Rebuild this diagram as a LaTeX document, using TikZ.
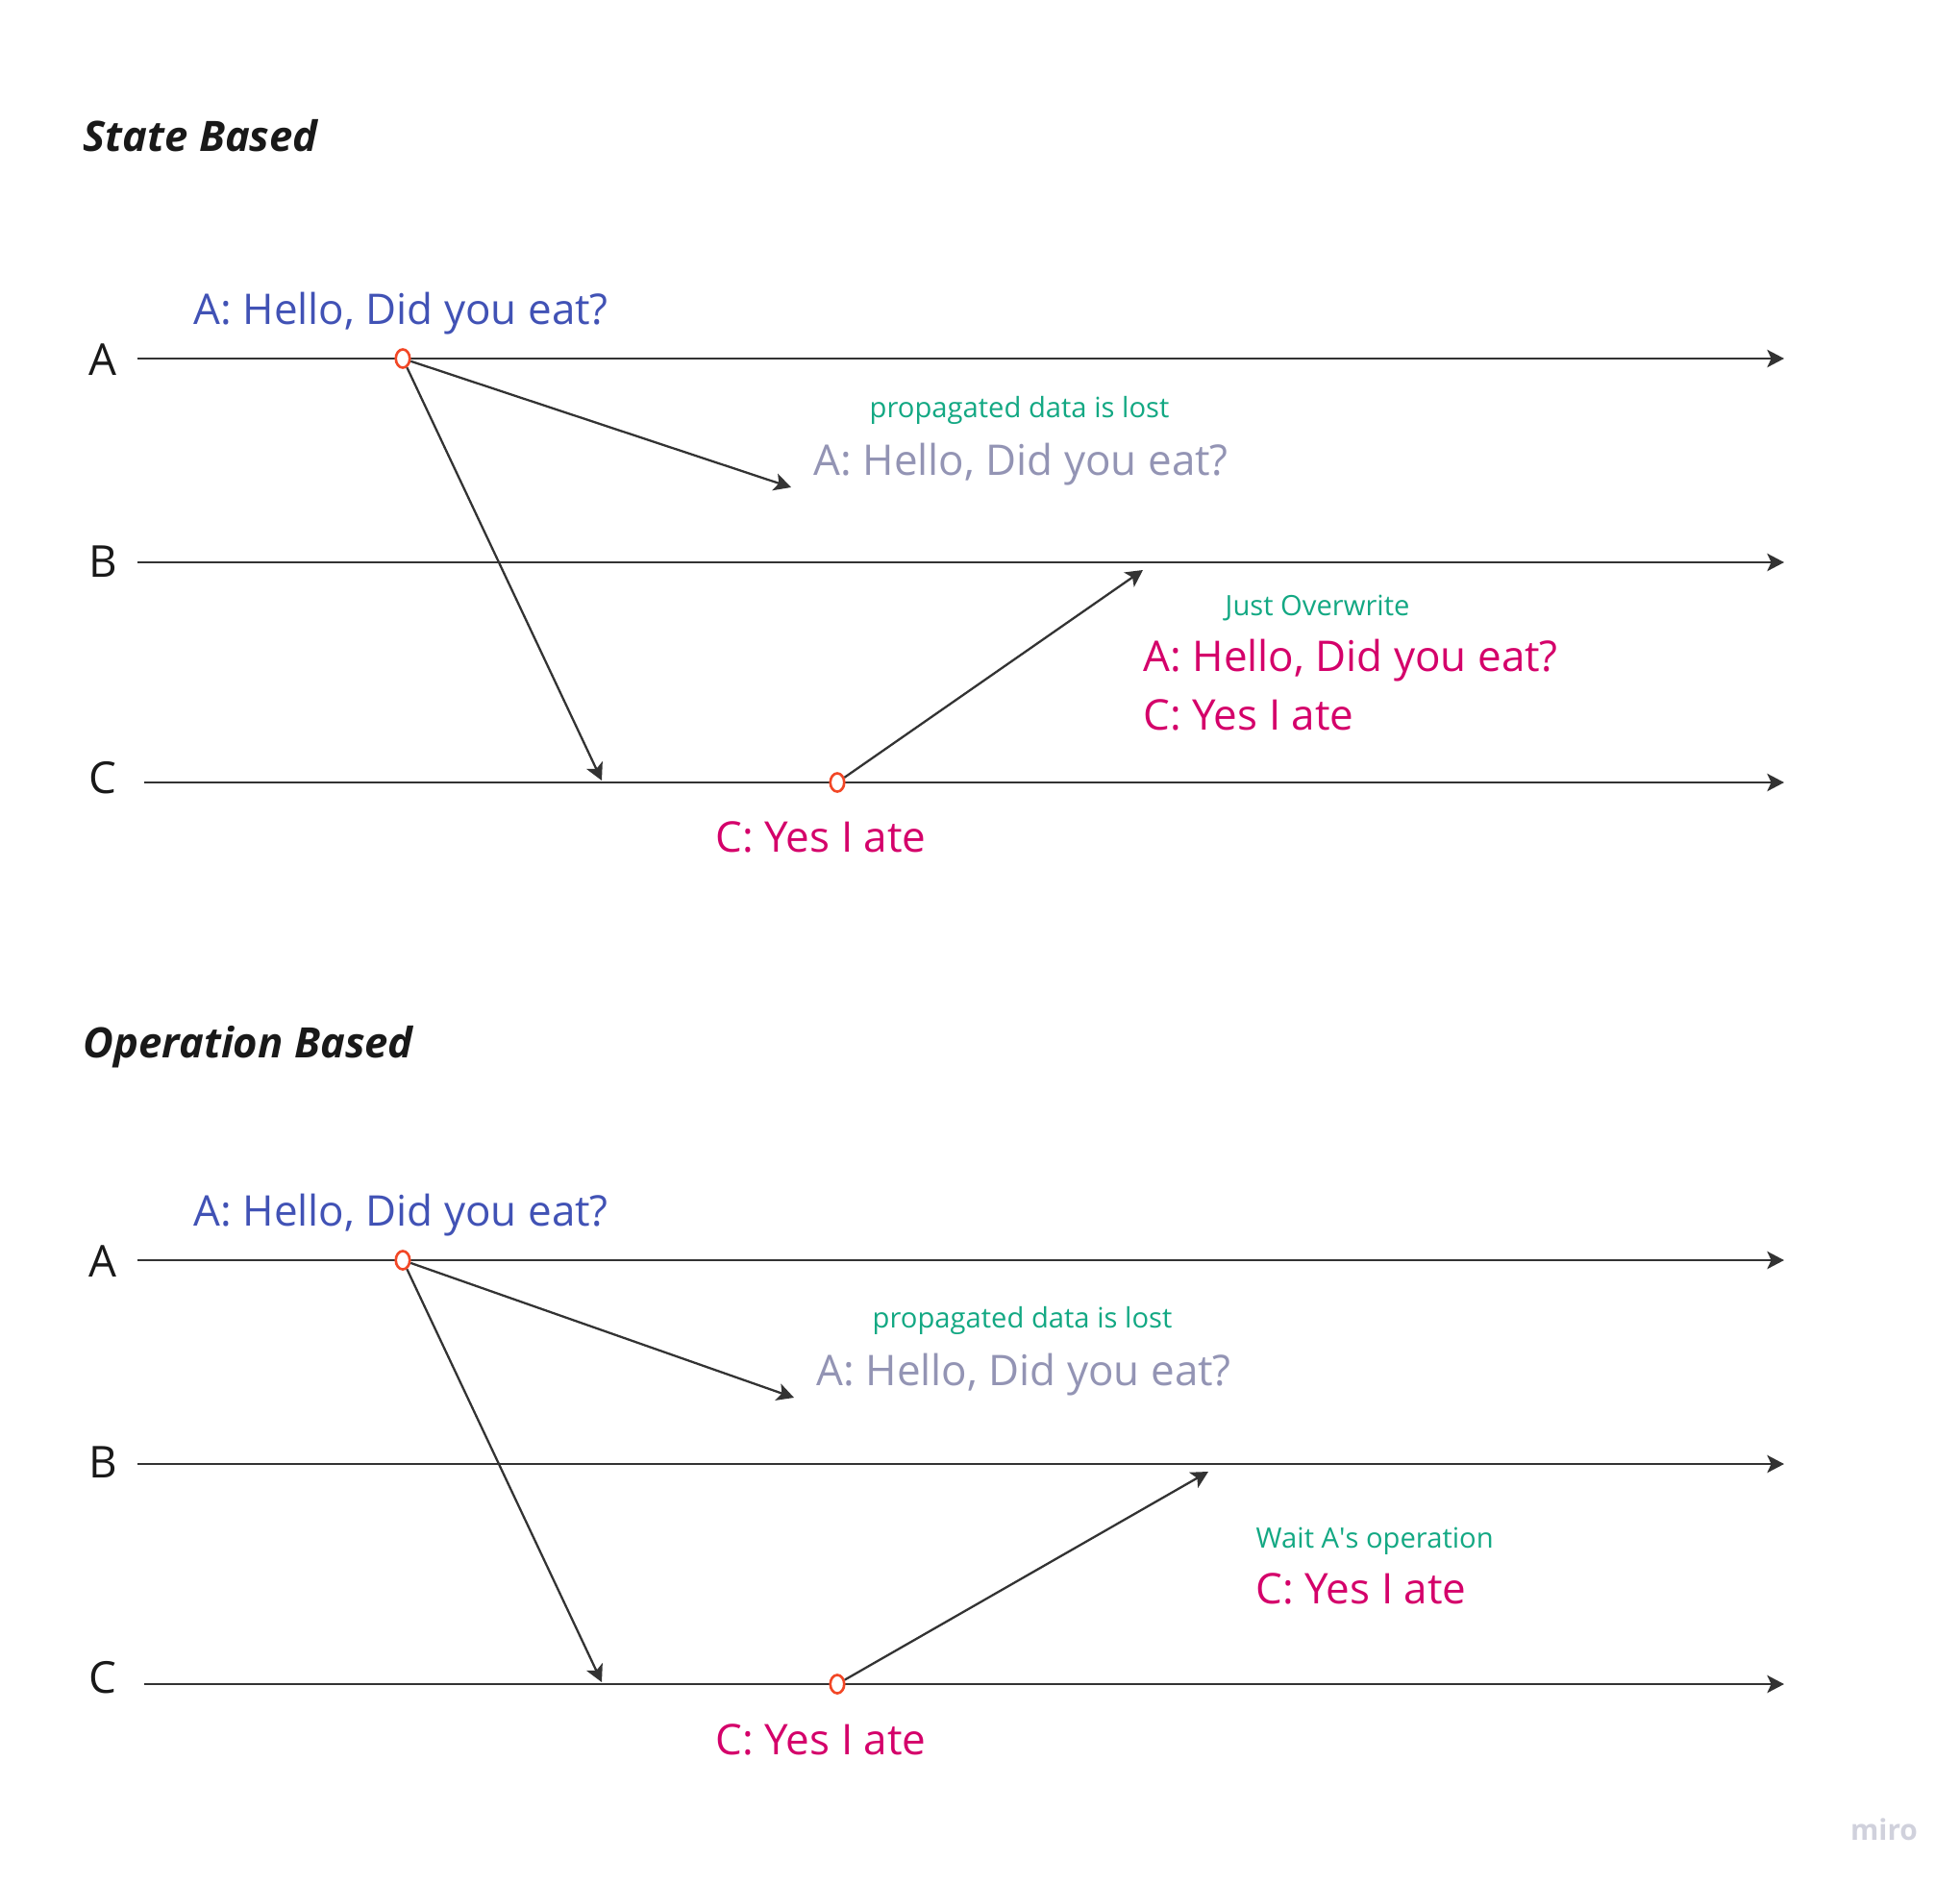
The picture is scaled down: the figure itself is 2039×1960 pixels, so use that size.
\documentclass[tikz,border=0pt]{standalone}
\usepackage{fontspec}
\setmainfont{Open Sans}
\usetikzlibrary{arrows.meta}
\usetikzlibrary{shapes.geometric}

\definecolor{linegray}{HTML}{333333}
\definecolor{evred}{HTML}{F24726}
\definecolor{msgblue}{HTML}{4152B5}
\definecolor{msggray}{HTML}{9394B4}
\definecolor{msgpink}{HTML}{D4006A}
\definecolor{notegreen}{HTML}{13A883}
\definecolor{mirogray}{HTML}{D0D1DC}

\begin{document}
\begin{tikzpicture}[x=0.01cm, y=-0.01cm, > = {Stealth[length=5pt, width=5.2pt, inset=1.2pt]},
	timeline/.style={->, line width=0.7pt, draw=linegray},
	msg/.style={->, line width=0.65pt, draw=linegray},
	event/.style={ellipse, draw=evred, fill=white, line width=0.75pt, inner sep=0pt, minimum width=0.145cm, minimum height=0.19cm},
	big/.style={font=\fontsize{12.5}{15}\selectfont, inner sep=0pt, anchor=base west},
	note/.style={font=\fontsize{8.3}{10}\selectfont, inner sep=0pt, anchor=base west, text=notegreen},
	proc/.style={font=\fontsize{13}{15}\selectfont, text=black!90, inner sep=0pt},
	title/.style={font=\fontsize{12.4}{15}\selectfont\bfseries\itshape, text=black!90, inner sep=0pt, anchor=base west}]
	\useasboundingbox (0,0) rectangle (2039,1960);

	% State Based
	\node[title] (tState) at (86,157) {State Based};
	\node[proc] (sA) at (107,374) {A};
	\node[proc] (sB) at (107,584) {B};
	\node[proc] (sC) at (107,809) {C};
	\coordinate (sA0) at (143,373); \coordinate (sA1) at (1856,373);
	\coordinate (sB0) at (143,585); \coordinate (sB1) at (1856,585);
	\coordinate (sC0) at (150,814); \coordinate (sC1) at (1856,814);
	\draw[timeline] (sA0) -- (sA1); % A line
	\draw[timeline] (sB0) -- (sB1); % B line
	\draw[timeline] (sC0) -- (sC1); % C line

	\node[event] (sAev) at (419,373) {};
	\node[event] (sCev) at (871,814) {};
	\coordinate (sAtoB) at (823,507);
	\coordinate (sAtoC) at (626,812);
	\coordinate (sCtoB) at (1189,593);
	\draw[msg] (sAev) -- (sAtoB);
	\draw[msg] (sAev) -- (sAtoC);
	\draw[msg] (sCev) -- (sCtoB);

	\node[big, text=msgblue] (sAmsg) at (201,337) {A: Hello, Did you eat?};
	\node[note] (sLost) at (904,434) {propagated data is lost};
	\node[big, text=msggray] (sBmsg) at (846,494) {A: Hello, Did you eat?};
	\node[note] (sOver) at (1274,640) {Just Overwrite};
	\node[big, text=msgpink] (sBnewA) at (1189,698) {A: Hello, Did you eat?};
	\node[big, text=msgpink] (sBnewC) at (1189,759) {C: Yes I ate};
	\node[big, text=msgpink] (sCmsg) at (744,886) {C: Yes I ate};

	% Operation Based
	\node[title] (tOp) at (86,1100) {Operation Based};
	\node[proc] (oA) at (107,1312) {A};
	\node[proc] (oB) at (107,1521) {B};
	\node[proc] (oC) at (107,1745) {C};
	\coordinate (oA0) at (143,1311); \coordinate (oA1) at (1856,1311);
	\coordinate (oB0) at (143,1523); \coordinate (oB1) at (1856,1523);
	\coordinate (oC0) at (150,1752); \coordinate (oC1) at (1856,1752);
	\draw[timeline] (oA0) -- (oA1); % A line
	\draw[timeline] (oB0) -- (oB1); % B line
	\draw[timeline] (oC0) -- (oC1); % C line

	\node[event] (oAev) at (419,1311) {};
	\node[event] (oCev) at (871,1752) {};
	\coordinate (oAtoB) at (826,1454);
	\coordinate (oAtoC) at (626,1750);
	\coordinate (oCtoB) at (1257,1531);
	\draw[msg] (oAev) -- (oAtoB);
	\draw[msg] (oAev) -- (oAtoC);
	\draw[msg] (oCev) -- (oCtoB);

	\node[big, text=msgblue] (oAmsg) at (201,1275) {A: Hello, Did you eat?};
	\node[note] (oLost) at (907,1381) {propagated data is lost};
	\node[big, text=msggray] (oBmsg) at (849,1441) {A: Hello, Did you eat?};
	\node[note] (oWait) at (1306,1610) {Wait A\textquotesingle s operation};
	\node[big, text=msgpink] (oBnewC) at (1306,1668) {C: Yes I ate};
	\node[big, text=msgpink] (oCmsg) at (744,1825) {C: Yes I ate};

	\node[font=\fontsize{8.5}{10}\selectfont\bfseries, text=mirogray] (miro) at (1960,1903) {miro};
\end{tikzpicture}
\end{document}
